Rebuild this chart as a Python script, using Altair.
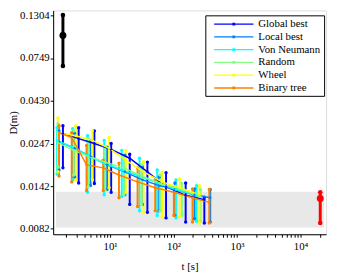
import altair as alt
import pandas as pd

series_names = ["Global best", "Local best", "Von Neumann", "Random", "Wheel", "Binary tree"]
series_colors = ["#0000ff", "#0080ff", "#00ffff", "#80ff80", "#ffff00", "#ff8000"]

# Global best
gb_t = [1.81, 3.20, 5.66, 10.4, 20.4, 38.7, 76.1, 155, 305]
gb_d = [0.0281, 0.0263, 0.0247, 0.0229, 0.0204, 0.0171, 0.0141, 0.0126, 0.0119]
gb_hi = [0.0311, 0.0303, 0.0291, 0.0247, 0.0215, 0.0194, 0.0169, 0.0148, 0.0123]
gb_lo = [0.0180, 0.0148, 0.0147, 0.0131, 0.0112, 0.0101, 0.0094, 0.0089, 0.0088]
# Local best
lb_t = [1.57, 2.77, 4.91, 9.00, 17.1, 32.4, 59.3, 105, 214, 378]
lb_d = [0.0253, 0.0232, 0.0209, 0.0187, 0.0171, 0.0154, 0.0143, 0.0136, 0.0127, 0.0122]
lb_hi = [0.0291, 0.0281, 0.0257, 0.0235, 0.0212, 0.0182, 0.0160, 0.0148, 0.0137, 0.0136]
lb_lo = [0.0175, 0.0160, 0.0143, 0.0136, 0.0127, 0.0112, 0.0103, 0.0097, 0.0093, 0.0089]
# Von Neumann
vn_t = [1.46, 2.58, 4.41, 8.07, 15.3, 29.1, 55.2, 109, 230]
vn_d = [0.0257, 0.0235, 0.0212, 0.0191, 0.0175, 0.0162, 0.0148, 0.0136, 0.0126]
vn_hi = [0.0303, 0.0299, 0.0273, 0.0257, 0.0226, 0.0204, 0.0175, 0.0154, 0.0143]
vn_lo = [0.0166, 0.0154, 0.0131, 0.0127, 0.0124, 0.0103, 0.0097, 0.0094, 0.0090]
# Random
rd_t = [1.51, 2.68, 4.57, 8.37, 16.5, 31.3, 61.5, 135, 265]
rd_d = [0.0250, 0.0226, 0.0209, 0.0194, 0.0180, 0.0162, 0.0147, 0.0136, 0.0124]
rd_hi = [0.0319, 0.0291, 0.0263, 0.0235, 0.0207, 0.0187, 0.0164, 0.0147, 0.0136]
rd_lo = [0.0182, 0.0164, 0.0141, 0.0134, 0.0127, 0.0112, 0.0103, 0.0097, 0.0090]
# Wheel
wh_t = [1.51, 2.88, 5.27, 9.66, 17.7, 33.6, 66.0, 125, 255]
wh_d = [0.0284, 0.0273, 0.0257, 0.0232, 0.0199, 0.0171, 0.0150, 0.0139, 0.0127]
wh_hi = [0.0344, 0.0311, 0.0291, 0.0267, 0.0226, 0.0195, 0.0170, 0.0156, 0.0143]
wh_lo = [0.0171, 0.0154, 0.0154, 0.0139, 0.0131, 0.0101, 0.0095, 0.0096, 0.0088]
# Binary tree
bt_t = [1.57, 2.49, 4.26, 7.79, 13.8, 27.1, 51.4, 101, 199, 365]
bt_d = [0.0284, 0.0267, 0.0187, 0.0180, 0.0164, 0.0150, 0.0139, 0.0131, 0.0122, 0.0115]
bt_hi = [0.0311, 0.0284, 0.0241, 0.0199, 0.0191, 0.0180, 0.0154, 0.0141, 0.0137, 0.0136]
bt_lo = [0.0162, 0.0150, 0.0134, 0.0134, 0.0122, 0.0109, 0.0103, 0.0097, 0.0089, 0.0088]

# initial (black) and final (red) reference points
init_t = [1.81]
init_d = [0.1003]
init_lo = [0.0676]
init_hi = [0.131]
final_t = [20400]
final_d = [0.0121]
final_lo = [0.0088]
final_hi = [0.0131]

# gray target band
band_t = [1.41, 23500]
band_d = [0.0083, 0.0132]

y_ticks = [0.0082, 0.0142, 0.0247, 0.0430, 0.0749, 0.1304]
x_ticks = [2, 3, 4, 5, 6, 7, 8, 9, 10, 20, 30, 40, 50, 60, 70, 80, 90, 100,
           200, 300, 400, 500, 600, 700, 800, 900, 1000, 2000, 3000, 4000, 5000,
           6000, 7000, 8000, 9000, 10000, 20000]

groups = [
    (gb_t, gb_d, gb_lo, gb_hi),
    (lb_t, lb_d, lb_lo, lb_hi),
    (vn_t, vn_d, vn_lo, vn_hi),
    (rd_t, rd_d, rd_lo, rd_hi),
    (wh_t, wh_d, wh_lo, wh_hi),
    (bt_t, bt_d, bt_lo, bt_hi),
]
rows = []
for si, (name, g) in enumerate(zip(series_names, groups)):
    for i, (t, d, lo, hi) in enumerate(zip(*g)):
        rows.append({"series": name, "order": si, "i": i, "t": t, "D": d, "lo": lo, "hi": hi})
df = pd.DataFrame(rows)

ref_df = pd.DataFrame({
    "t": init_t + final_t, "D": init_d + final_d,
    "lo": init_lo + final_lo, "hi": init_hi + final_hi,
    "kind": ["init", "final"],
})
band_df = pd.DataFrame({"t0": [band_t[0]], "t1": [band_t[1]], "d0": [band_d[0]], "d1": [band_d[1]]})

FONT = "Times New Roman, Liberation Serif, serif"

xscale = alt.Scale(type="log", domain=[1.27, 25200], nice=False)
yscale = alt.Scale(type="log", domain=[0.0076, 0.139], nice=False)
cscale = alt.Scale(domain=series_names, range=series_colors)

xlabel = ("datum.value == 10 ? '10\u00b9' : datum.value == 100 ? '10\u00b2' : "
          "datum.value == 1000 ? '10\u00b3' : datum.value == 10000 ? '10\u2074' : ''")

xaxis = alt.Axis(title="t [s]", values=x_ticks, labelExpr=xlabel, tickSize=3,
                 labelPadding=4, titlePadding=9, grid=False, labelFlush=False,
                 labelFont=FONT, titleFont=FONT, labelFontSize=11, titleFontSize=11,
                 titleFontWeight="normal", labelColor="black", titleColor="black",
                 domainColor="black", tickColor="black")
yaxis = alt.Axis(title="D(m)", values=y_ticks, format=".4f", tickSize=3,
                 labelPadding=1, titlePadding=1, grid=False,
                 labelFont=FONT, titleFont=FONT, labelFontSize=11, titleFontSize=11,
                 titleFontWeight="normal", labelColor="black", titleColor="black",
                 domainColor="black", tickColor="black")

base = alt.Chart(df)

band = alt.Chart(band_df).mark_rect(color="#e8e8e8").encode(
    x=alt.X("t0:Q", scale=xscale, axis=xaxis),
    x2="t1:Q",
    y=alt.Y("d0:Q", scale=yscale, axis=yaxis),
    y2="d1:Q",
)

bars = base.mark_rule(strokeWidth=2).encode(
    x=alt.X("t:Q", scale=xscale),
    y=alt.Y("lo:Q", scale=yscale),
    y2="hi:Q",
    color=alt.Color("series:N", scale=cscale, legend=None),
    order="order:Q",
)
caps_lo = base.mark_point(filled=True, size=12, opacity=1, shape="circle").encode(
    x=alt.X("t:Q", scale=xscale),
    y=alt.Y("lo:Q", scale=yscale),
    color=alt.Color("series:N", scale=cscale, legend=None),
)
caps_hi = base.mark_point(filled=True, size=12, opacity=1, shape="circle").encode(
    x=alt.X("t:Q", scale=xscale),
    y=alt.Y("hi:Q", scale=yscale),
    color=alt.Color("series:N", scale=cscale, legend=None),
)
lines = base.mark_line(strokeWidth=1.5).encode(
    x=alt.X("t:Q", scale=xscale),
    y=alt.Y("D:Q", scale=yscale),
    color=alt.Color(
        "series:N", scale=cscale, sort=series_names,
        legend=alt.Legend(
            title=None, orient="none", legendX=155, legendY=5,
            strokeColor="black", fillColor="white", padding=3,
            symbolType="M-4,0H4M-0.15,-0.15H0.15V0.15H-0.15Z", symbolSize=100,
            symbolStrokeWidth=1.3, symbolOffset=20, labelOffset=19,
            rowPadding=2, labelFont=FONT, labelFontSize=11,
            labelColor="black", cornerRadius=0, labelLimit=200,
        ),
    ),
    detail="series:N",
    order="i:Q",
)
dots = base.mark_point(filled=True, size=6, opacity=1).encode(
    x=alt.X("t:Q", scale=xscale),
    y=alt.Y("D:Q", scale=yscale),
    color=alt.Color("series:N", scale=cscale, legend=None),
)

refcolor = alt.Color("kind:N", scale=alt.Scale(domain=["init", "final"], range=["black", "#ff0000"]), legend=None)
ref_bars = alt.Chart(ref_df).mark_rule(strokeWidth=3).encode(
    x=alt.X("t:Q", scale=xscale), y=alt.Y("lo:Q", scale=yscale), y2="hi:Q", color=refcolor)
ref_lo = alt.Chart(ref_df).mark_point(filled=True, size=22, opacity=1).encode(
    x=alt.X("t:Q", scale=xscale), y=alt.Y("lo:Q", scale=yscale), color=refcolor)
ref_hi = alt.Chart(ref_df).mark_point(filled=True, size=22, opacity=1).encode(
    x=alt.X("t:Q", scale=xscale), y=alt.Y("hi:Q", scale=yscale), color=refcolor)
ref_pt = alt.Chart(ref_df).mark_point(filled=True, size=50, opacity=1).encode(
    x=alt.X("t:Q", scale=xscale), y=alt.Y("D:Q", scale=yscale), color=refcolor)

chart = alt.layer(
    band, bars, caps_lo, caps_hi, lines, dots, ref_bars, ref_lo, ref_hi, ref_pt
).resolve_scale(color="independent").properties(
    width=278, height=228,
    autosize=alt.AutoSizeParams(type="none"),
    padding={"left": 46, "top": 0, "right": 4, "bottom": 38},
).configure_view(
    stroke="black", strokeWidth=1
).configure_axis(
    labelFont=FONT, titleFont=FONT,
    labelFontSize=11, titleFontSize=11, labelColor="black", titleColor="black",
    titleFontWeight="normal", domainColor="black", tickColor="black",
).configure(background="white")

chart.save("out.html", embed_options={"renderer": "svg", "actions": False})
